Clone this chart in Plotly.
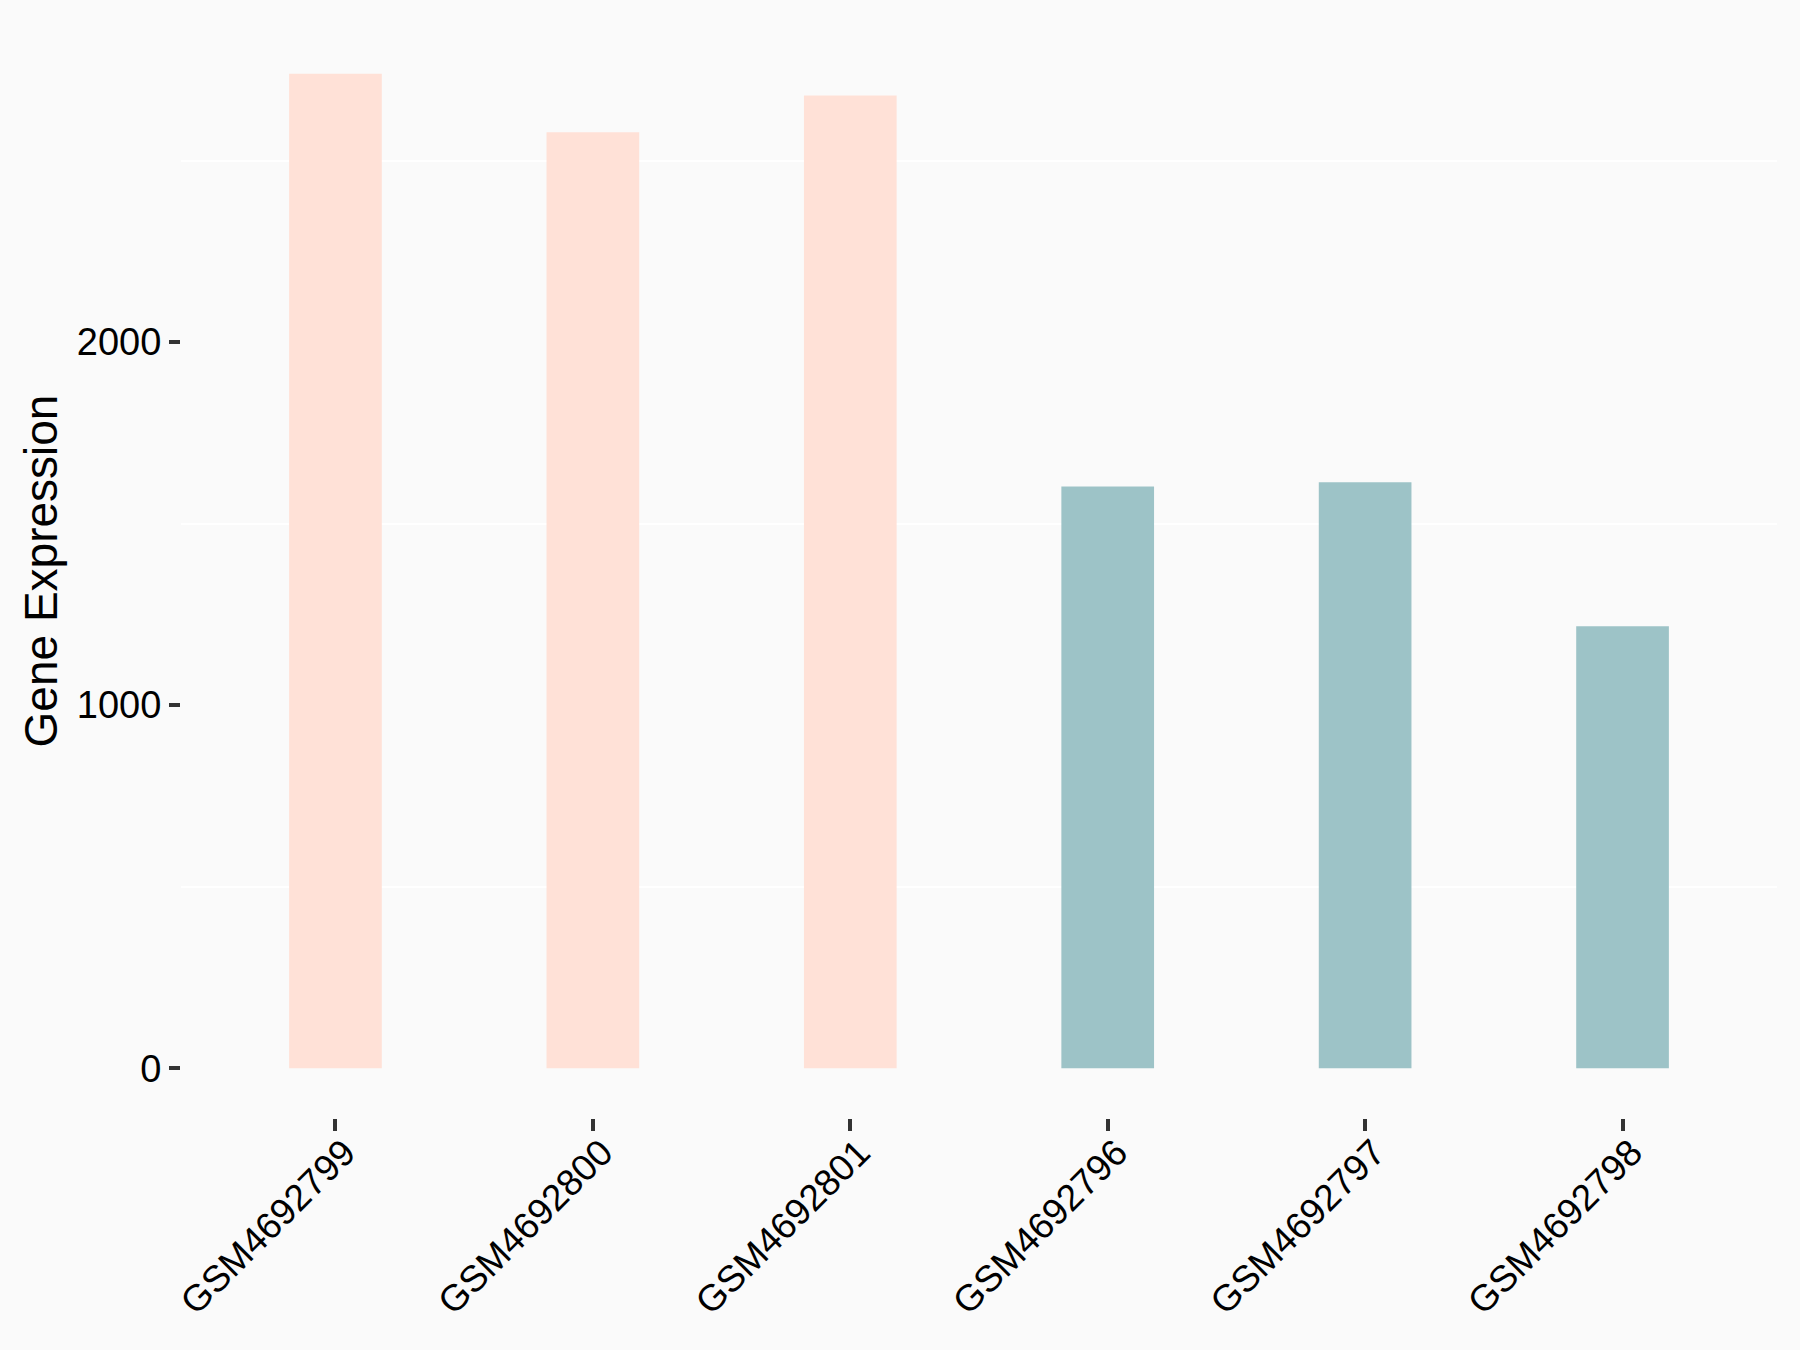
import plotly.graph_objects as go

samples = ["GSM4692799", "GSM4692800", "GSM4692801", "GSM4692796", "GSM4692797", "GSM4692798"]
values = [2739, 2578, 2679, 1602, 1614, 1217]
groups = ["A", "A", "A", "B", "B", "B"]
group_colors = {"A": "#FFE1D7", "B": "#9DC3C7"}

fig = go.Figure()
fig.add_trace(go.Bar(
    x=samples, y=values,
    marker=dict(color=[group_colors[g] for g in groups], line=dict(width=0)),
    width=0.36, showlegend=False,
))

fig.update_layout(
    width=1800, height=1350,
    paper_bgcolor="#FAFAFA", plot_bgcolor="#FAFAFA",
    margin=dict(l=181, r=23, t=24, b=232),
    font=dict(family="Liberation Sans, Arial, sans-serif", color="#000000"),
)
fig.update_xaxes(
    range=[-0.6, 5.6], showgrid=False, zeroline=False, showline=False,
    ticks="outside", ticklen=12, tickwidth=4, tickcolor="#333333",
    tickangle=-45, tickfont=dict(size=37, color="#000000"),
    ticklabelstandoff=-15, ticklabelshift=9,
)
fig.update_yaxes(
    range=[-137, 2876], tickvals=[0, 1000, 2000], showgrid=False,
    zeroline=False, showline=False,
    ticks="outside", ticklen=11, tickwidth=4, tickcolor="#333333",
    tickfont=dict(size=38, color="#000000"),
    minor=dict(tickvals=[500, 1500, 2500], showgrid=True, gridcolor="#FFFFFF", gridwidth=2, ticks=""),
    title=dict(text="Gene Expression", font=dict(size=46, color="#000000"), standoff=4),
)

fig.write_html("out.html", config={"displayModeBar": False},
               post_script="document.body.style.margin='0';document.body.style.background='#FAFAFA';")
